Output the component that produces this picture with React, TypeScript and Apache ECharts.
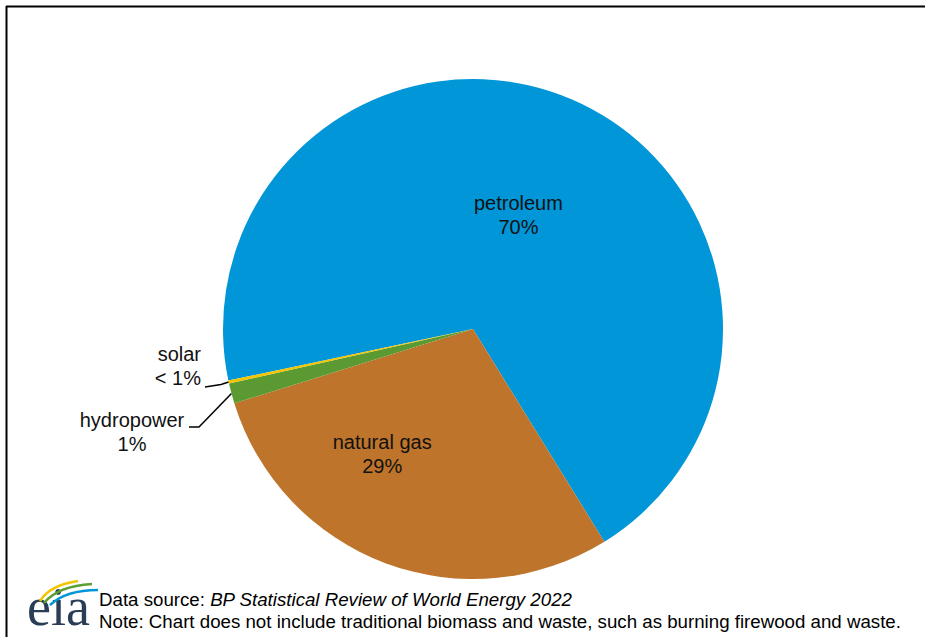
import React, { useEffect, useRef } from "react";
import * as echarts from "echarts";

const categories = ["petroleum", "natural gas", "hydropower", "solar"];
const shares = [69.5, 29.0, 1.3, 0.2];
const labelTexts = ["petroleum\n70%", "natural gas\n29%", "hydropower\n1%", "solar\n< 1%"];
const colors = ["#0096D7", "#BE742B", "#5B9A33", "#F2C500"];
const sourceText = "BP Statistical Review of World Energy 2022";
const noteText = "Note: Chart does not include traditional biomass and waste, such as burning firewood and waste.";

const FONT = "'Liberation Sans', Arial, sans-serif";

export default function App() {
  const ref = useRef<HTMLDivElement>(null);
  useEffect(() => {
    if (!ref.current) return;
    const chart = echarts.init(ref.current, null, { renderer: "svg" });
    const data = categories.map((name, i) => ({
      name,
      value: shares[i],
      itemStyle: { color: colors[i] },
      label: {
        show: true,
        position: i < 2 ? "inside" : "outside",
        formatter: labelTexts[i],
        color: "#111",
        fontSize: 20,
        lineHeight: 24,
        fontFamily: FONT,
        align: i === 2 ? "center" : i === 3 ? "right" : "center",
      },
      labelLine: { show: i >= 2 },
    }));
    chart.setOption({
      animation: false,
      backgroundColor: "#fff",
      graphic: [
        { type: "line", shape: { x1: 6, y1: 6.5, x2: 925, y2: 6.5 }, style: { stroke: "#000", lineWidth: 2 } },
        { type: "line", shape: { x1: 6.5, y1: 6, x2: 6.5, y2: 637 }, style: { stroke: "#000", lineWidth: 2 } },
        {
          type: "text",
          x: 99,
          y: 599,
          style: {
            text: "{a|Data source: }{b|" + sourceText + "}",
            verticalAlign: "middle",
            rich: {
              a: { fontSize: 18.7, fontFamily: FONT, fill: "#000" },
              b: { fontSize: 18.7, fontFamily: FONT, fontStyle: "italic", fill: "#000" },
            },
          },
        },
        {
          type: "text",
          x: 99,
          y: 621,
          style: { text: noteText, fontSize: 18.7, fontFamily: FONT, fill: "#000", verticalAlign: "middle" },
        },
        {
          type: "text",
          x: 27,
          y: 629,
          style: {
            text: "eia",
            fontSize: 54,
            lineHeight: 44,
            verticalAlign: "bottom",
            fontFamily: "'Liberation Serif', 'Times New Roman', serif",
            fill: "#2a3d57",
          },
        },
        { type: "bezierCurve", shape: { x1: 40, y1: 601, cpx1: 50, cpy1: 585, x2: 78, y2: 581 }, style: { stroke: "#F2C500", lineWidth: 2.5, fill: "none" } },
        { type: "bezierCurve", shape: { x1: 44, y1: 603, cpx1: 58, cpy1: 586, x2: 92, y2: 584 }, style: { stroke: "#5BA033", lineWidth: 2.5, fill: "none" } },
        { type: "bezierCurve", shape: { x1: 50, y1: 605, cpx1: 66, cpy1: 590, x2: 98, y2: 590 }, style: { stroke: "#0096D7", lineWidth: 2.5, fill: "none" } },
      ],
      series: [
        {
          type: "pie",
          center: [473, 329],
          radius: 250,
          startAngle: 191.9,
          clockwise: true,
          avoidLabelOverlap: false,
          itemStyle: { borderWidth: 0 },
          labelLine: { lineStyle: { color: "#000", width: 1.5 }, length: 10, length2: 10 },
          emphasis: { disabled: true },
          data,
          labelLayout: (params: any) => {
            const i = params.dataIndex;
            const pts = params.labelLinePoints;
            if (i === 0) return { dx: -5, dy: 4 };
            if (i === 1) return { dx: -46, dy: 5 };
            if (i === 2) {
              const a = pts ? pts[0] : [232, 394];
              return {
                x: 132,
                y: 432,
                align: "center",
                verticalAlign: "middle",
                labelLinePoints: [a, [199, 427], [189, 427]],
              };
            }
            const a = pts ? pts[0] : [230, 382];
            return {
              x: 201,
              y: 366,
              align: "right",
              verticalAlign: "middle",
              labelLinePoints: [a, [221, 384.5], [205, 387]],
            };
          },
        },
      ],
    });
    return () => chart.dispose();
  }, []);
  return (
    <div
      ref={ref}
      style={{ position: "fixed", left: 0, top: 0, width: 927, height: 637, background: "#fff" }}
    />
  );
}
